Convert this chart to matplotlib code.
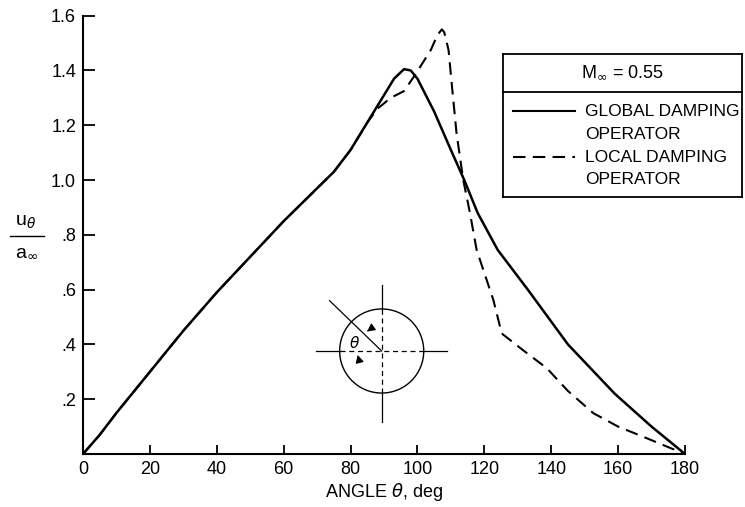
import numpy as np
import matplotlib
matplotlib.use("Agg")
import matplotlib.pyplot as plt
from matplotlib.patches import Circle, FancyArrowPatch
from matplotlib.lines import Line2D

plt.rcParams["font.family"] = ["Liberation Sans", "DejaVu Sans"]
plt.rcParams["mathtext.fontset"] = "dejavusans"

# global damping operator (solid)
theta_global = [0, 5, 10, 20, 30, 40, 50, 60, 70, 75, 80, 85, 90, 93, 96, 98, 100,
                105, 110, 114, 118, 124, 133, 145, 159, 170, 180]
u_global = [0.0, 0.07, 0.15, 0.30, 0.45, 0.59, 0.72, 0.85, 0.97, 1.03, 1.11, 1.21,
            1.31, 1.37, 1.405, 1.40, 1.37, 1.25, 1.11, 1.00, 0.88, 0.745, 0.60,
            0.40, 0.22, 0.10, 0.0]

# local damping operator (dashed)
theta_local = [0, 5, 10, 20, 30, 40, 50, 60, 70, 75, 80, 85, 88, 92, 96, 99.3, 104,
               106, 107.3, 108, 109.3, 110.5, 111.7, 113.7, 115.7, 117.7, 122.7,
               125.2, 132, 138.7, 145, 152.6, 160, 167.5, 175, 180]
u_local = [0.0, 0.07, 0.15, 0.30, 0.45, 0.59, 0.72, 0.85, 0.97, 1.03, 1.11, 1.21,
           1.26, 1.30, 1.325, 1.384, 1.475, 1.53, 1.55, 1.54, 1.475, 1.32, 1.17,
           1.00, 0.88, 0.745, 0.562, 0.44, 0.375, 0.313, 0.23, 0.149, 0.10, 0.063,
           0.025, 0.0]

x_ticks = [0, 20, 40, 60, 80, 100, 120, 140, 160, 180]
y_ticks = [0.2, 0.4, 0.6, 0.8, 1.0, 1.2, 1.4, 1.6]
y_ticklabels = [".2", ".4", ".6", ".8", "1.0", "1.2", "1.4", "1.6"]

W, H = 745, 507
fig = plt.figure(figsize=(W / 100, H / 100), dpi=100)
ax = fig.add_axes([83 / W, 1 - 454 / H, 602 / W, 438.3 / H])

ax.plot(theta_global, u_global, color="black", lw=1.8, solid_capstyle="round")
ax.plot(theta_local, u_local, color="black", lw=1.5, dashes=(6, 3.5))

ax.set_xlim(0, 180)
ax.set_ylim(0, 1.6)
ax.spines["top"].set_visible(False)
ax.spines["right"].set_visible(False)
for s in ("left", "bottom"):
    ax.spines[s].set_linewidth(1.5)

ax.set_xticks(x_ticks)
ax.set_xticklabels([str(t) for t in x_ticks])
ax.set_yticks(y_ticks)
ax.set_yticklabels(y_ticklabels)
ax.tick_params(axis="x", direction="in", length=6.5, width=1.3, labelsize=13, pad=5)
ax.tick_params(axis="y", direction="in", length=8.5, width=1.3, labelsize=13, pad=5)

ax.set_xlabel(r"ANGLE $\theta$, deg", fontsize=13, labelpad=2)

# y label as a stacked fraction
fig.text(26 / W, 1 - 222 / H, r"u$_{\theta}$", fontsize=14, ha="center", va="center")
fig.add_artist(Line2D([10 / W, 44 / W], [1 - 236 / H, 1 - 236 / H], color="black", lw=1.0))
fig.text(26 / W, 1 - 252 / H, r"a$_{\infty}$", fontsize=14, ha="center", va="center")

# legend box
bl, br = 502.7 / W, 742 / W
bt, bd, bb = 1 - 54 / H, 1 - 92.3 / H, 1 - 197.3 / H
for xs, ys in [([bl, br], [bt, bt]), ([bl, br], [bd, bd]), ([bl, br], [bb, bb]),
               ([bl, bl], [bt, bb]), ([br, br], [bt, bb])]:
    fig.add_artist(Line2D(xs, ys, color="black", lw=1.3))
fig.text((bl + br) / 2, 1 - 72 / H, r"M$_{\infty}$ = 0.55", fontsize=13, ha="center", va="center")
fig.add_artist(Line2D([513 / W, 575 / W], [1 - 111 / H] * 2, color="black", lw=1.5))
fig.add_artist(Line2D([513 / W, 575 / W], [1 - 157 / H] * 2, color="black", lw=1.5, dashes=(6, 3.5)))
for txt, yp in [("GLOBAL DAMPING", 112), ("OPERATOR", 134.5), ("LOCAL DAMPING", 157.5), ("OPERATOR", 180)]:
    fig.text(585 / W, 1 - yp / H, txt, fontsize=12.5, ha="left", va="center")

# sketch of the cylinder and angle
sk = fig.add_axes([(381.7 - 72.5) / W, (H - 351 - 72.5) / H, 145 / W, 145 / H])
sk.set_xlim(-1, 1)
sk.set_ylim(-1, 1)
sk.axis("off")
r = 0.58
sk.add_patch(Circle((0, 0), r, fill=False, color="black", lw=1.0))
sk.plot([-0.9, -r], [0, 0], color="black", lw=0.9)
sk.plot([r, 0.905], [0, 0], color="black", lw=0.9)
sk.plot([-r, r], [0, 0], color="black", lw=0.9, dashes=(4, 3))
sk.plot([0, 0], [r, 0.91], color="black", lw=0.9)
sk.plot([0, 0], [-r, -0.975], color="black", lw=0.9)
sk.plot([0, 0], [-r, r], color="black", lw=0.9, dashes=(4, 3))
ang = np.deg2rad(136)
sk.plot([0, 1.0 * np.cos(ang)], [0, 1.0 * np.sin(ang)], color="black", lw=0.9)
ra = 0.34
for a0, a1 in [(118, 133), (205, 183)]:
    p0 = (ra * np.cos(np.deg2rad(a0)), ra * np.sin(np.deg2rad(a0)))
    p1 = (ra * np.cos(np.deg2rad(a1)), ra * np.sin(np.deg2rad(a1)))
    sk.add_patch(FancyArrowPatch(p0, p1, arrowstyle="-|>,head_length=3,head_width=1.6",
                                 color="black", lw=0.9, mutation_scale=1.5))
sk.text(-0.37, 0.115, r"$\theta$", fontsize=11, ha="center", va="center")

fig.savefig("out.png", dpi=100)
